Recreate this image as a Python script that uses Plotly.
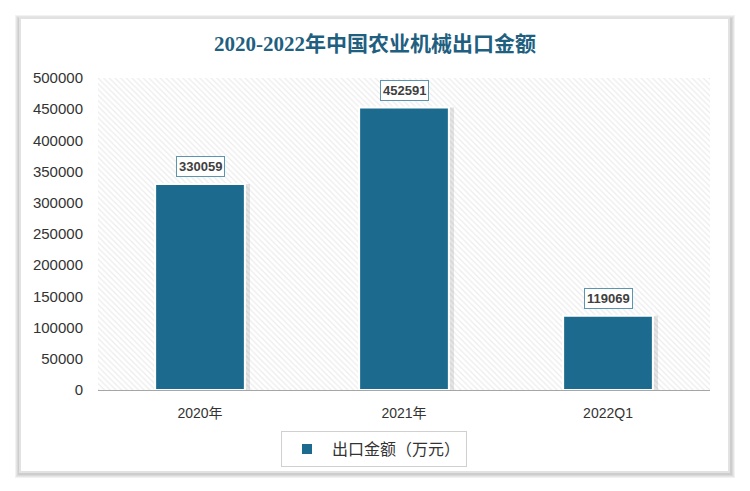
import plotly.graph_objects as go

categories = ["2020年", "2021年", "2022Q1"]
values = [330059, 452591, 119069]
series_name = "出口金额（万元）"
title_text = "2020-2022年中国农业机械出口金额"
y_ticks = [0, 50000, 100000, 150000, 200000, 250000, 300000, 350000, 400000, 450000, 500000]
Y_MAX = 500000

W, H = 750, 491
ML, MR, MT, MB = 98, 40, 78, 101
PW, PH = W - ML - MR, H - MT - MB

def px(x):
    return (x - ML) / PW

def py(y):
    return (H - MB - y) / PH

BAR = "#1c6b8f"

fig = go.Figure()

# hatched plot background (decoration) on base axis
fig.add_trace(go.Bar(
    x=[0.5], y=[Y_MAX], width=[1], xaxis="x", yaxis="y",
    marker=dict(color="white", line=dict(width=0),
                pattern=dict(shape="\\", fgcolor="#d9d9d9", bgcolor="white",
                             size=4, solidity=0.3)),
    showlegend=False, hoverinfo="skip",
))

# bar shadows
fig.add_trace(go.Bar(
    x=categories, y=values, xaxis="x2", yaxis="y", width=0.46,
    marker=dict(color="rgba(0,0,0,0.10)", line=dict(width=0)),
    offset=-0.215, showlegend=False, hoverinfo="skip",
))

fig.add_trace(go.Bar(
    x=categories, y=values, xaxis="x2", yaxis="y", width=0.44,
    name=series_name,
    marker=dict(color=BAR, line=dict(color="white", width=2)),
    offset=-0.22,
))

for c, v in zip(categories, values):
    fig.add_annotation(
        x=c, y=v, xref="x2", yref="y", text="<b>%d</b>" % v, showarrow=False,
        yanchor="bottom", yshift=7,
        font=dict(family="Liberation Sans, Arial", size=13, color="#404040"),
        bgcolor="white", bordercolor="#5b95b0", borderwidth=1, borderpad=2,
    )

shapes = []
# frame shadow
for i, op in enumerate([0.05, 0.05, 0.05, 0.05]):
    d = i + 1
    shapes.append(dict(type="rect", xref="paper", yref="paper", layer="below",
                       x0=px(20 - d - 1), x1=px(729 + d + 2), y0=py(472 + d + 2), y1=py(18 - d + 1),
                       line=dict(width=0), fillcolor="rgba(0,0,0,%s)" % op))
shapes.append(dict(type="rect", xref="paper", yref="paper", layer="below",
                   x0=px(20), x1=px(729), y0=py(472), y1=py(18),
                   line=dict(color="#e2e2e2", width=2), fillcolor="white"))

fig.update_layout(
    width=W, height=H,
    margin=dict(l=ML, r=MR, t=MT, b=MB),
    paper_bgcolor="white", plot_bgcolor="rgba(0,0,0,0)",
    shapes=shapes,
    title=dict(text="<b>" + title_text + "</b>", x=0.5, xref="container", xanchor="center",
               y=1 - 44 / H, yref="container", yanchor="middle",
               font=dict(family="Liberation Serif, Noto Sans CJK SC", size=21, color="#1f5f80")),
    xaxis=dict(range=[0, 1], visible=False, fixedrange=True),
    xaxis2=dict(overlaying="x", side="bottom", type="category", range=[-0.5, 2.5],
                showline=True, linecolor="#a6a6a6", linewidth=1, ticks="",
                ticklabelstandoff=10,
                tickfont=dict(family="Liberation Sans, Noto Sans CJK SC", size=14, color="#333333"),
                showgrid=False),
    yaxis=dict(range=[0, Y_MAX], tickvals=y_ticks, ticktext=[str(t) for t in y_ticks],
               showgrid=False, zeroline=False, showline=False, ticks="",
               ticklabelstandoff=14,
               tickfont=dict(family="Liberation Sans", size=15, color="#333333")),
    barmode="overlay",
    showlegend=True,
    legend=dict(orientation="h", x=px(374), xanchor="center", y=py(431), yanchor="top",
                bgcolor="white", bordercolor="#d0d0d0", borderwidth=1,
                font=dict(family="Noto Sans CJK SC", size=16, color="#333333"),
                itemwidth=40, traceorder="normal"),
)

fig.write_html("out.html")
